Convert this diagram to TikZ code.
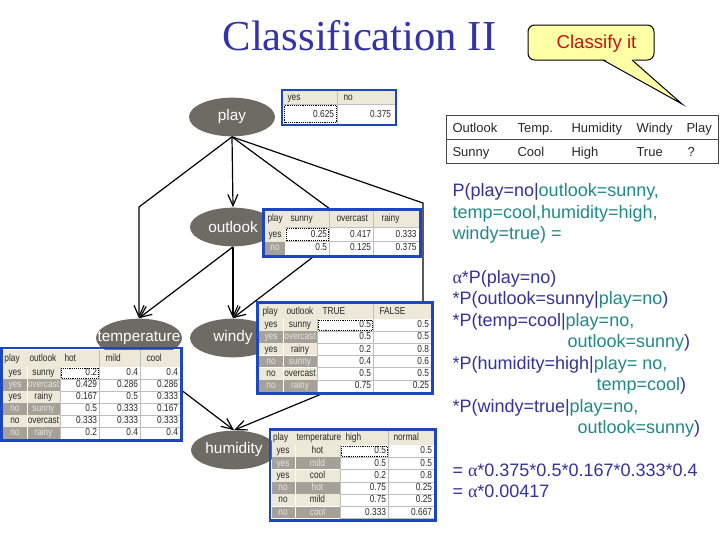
\documentclass[tikz,border=0pt]{standalone}
\usepackage{fontspec}
\setmainfont{Liberation Sans}
\newfontfamily\titlefont{Liberation Serif}
\newfontfamily\cptfont[FakeStretch=0.82]{Liberation Sans}
\usetikzlibrary{shapes.geometric,arrows.meta}

\definecolor{titleblue}{RGB}{51,51,170}
\definecolor{txtblue}{RGB}{51,51,153}
\definecolor{txtteal}{RGB}{34,136,136}
\definecolor{nodegray}{RGB}{110,106,100}
\definecolor{cptblue}{RGB}{30,70,190}
\definecolor{cptbeige}{RGB}{236,233,216}
\definecolor{cptgray}{RGB}{165,161,152}
\definecolor{cptpale}{RGB}{228,228,222}
\definecolor{cpttext}{RGB}{40,40,40}
\definecolor{gridgray}{RGB}{190,190,190}
\definecolor{calloutyellow}{RGB}{255,255,165}
\definecolor{calloutred}{RGB}{204,17,17}
\definecolor{tablegray}{RGB}{70,70,70}

\tikzset{every picture/.style={line width=0.75pt}}
\tikzset{
  bnnode/.style={ellipse, fill=nodegray, text=white, font=\fontsize{11.5}{13}\selectfont, minimum width=64.5pt, minimum height=29pt, inner sep=0pt},
  bnarrow/.style={draw=black, line width=0.9pt, -{Straight Barb[length=8.5pt,width=7.5pt]}},
  cptframe/.style={draw=cptblue, line width=2.2pt},
  gridline/.style={draw=gridgray, line width=0.5pt},
  sepline/.style={draw=white, line width=0.5pt},
  cpttxt/.style={inner sep=0pt, font=\cptfont\fontsize{7.6}{8.5}\selectfont, text=cpttext, text height=5.5pt, text depth=1.6pt},
  sel/.style={draw=black, densely dotted, line width=0.4pt},
  bigtxt/.style={anchor=base west, inner sep=0pt, text=txtblue, font=\fontsize{13.5}{16}\selectfont},
  datatxt/.style={anchor=base west, inner sep=0pt, text=cpttext, font=\fontsize{9.75}{12}\selectfont},
}

\begin{document}
\begin{tikzpicture}[x=0.75pt,y=0.75pt,yscale=-1,xscale=1]
	%set diagram size 720 x 540
	\fill[white] (0,0) rectangle (720,540);
	
	% Title
	\node[anchor=base, inner sep=0pt, text=titleblue, font=\titlefont\fontsize{32}{38}\selectfont] (title) at (359.5,50) {Classification II};
	
	%Shape: Callout
	\draw[fill=calloutyellow, rounded corners=5pt] (528,25) rectangle (654,60);
	\fill[calloutyellow] (603,58.5) -- (682,104) -- (632,58.5) -- cycle;
	\draw (603,60) -- (682,104) -- (632,60);
	% Text Node
	\node[anchor=base, inner sep=0pt, text=calloutred, font=\fontsize{14}{16}\selectfont] (classify) at (596.5,48.5) {Classify it};
	
	%Shape: Instance table
	\draw[draw=tablegray] (446,115) rectangle (718,163);
	\draw[draw=tablegray] (446,139.5) -- (718,139.5);
	\node[datatxt] (hout) at (452,132.5) {Outlook};
	\node[datatxt] (htmp) at (517,132.5) {Temp.};
	\node[datatxt] (hhum) at (571,132.5) {Humidity};
	\node[datatxt] (hwin) at (636,132.5) {Windy};
	\node[datatxt] (hpla) at (686,132.5) {Play};
	\node[datatxt] (vout) at (452,156) {Sunny};
	\node[datatxt] (vtmp) at (517,156) {Cool};
	\node[datatxt] (vhum) at (571,156) {High};
	\node[datatxt] (vwin) at (636,156) {True};
	\node[datatxt] (vpla) at (687,156) {?};
	
	% Text Nodes: computation
	\node[bigtxt] (q1) at (452,196.5) {P(play=no|\textcolor{txtteal}{outlook=sunny,}};
	\node[bigtxt] (q2) at (452,218) {\textcolor{txtteal}{temp=cool,humidity=high,}};
	\node[bigtxt] (q3) at (452,239.5) {\textcolor{txtteal}{windy=true) =}};
	\node[bigtxt] (f1) at (452,283) {{\titlefont α}*P(play=no)};
	\node[bigtxt] (f2) at (452,304.5) {*P(outlook=sunny|\textcolor{txtteal}{play=no})};
	\node[bigtxt] (f3) at (452,326) {*P(temp=cool|\textcolor{txtteal}{play=no,}};
	\node[bigtxt] (f3b) at (567,347.5) {\textcolor{txtteal}{outlook=sunny})};
	\node[bigtxt] (f4) at (452,369) {*P(humidity=high|\textcolor{txtteal}{play= no,}};
	\node[bigtxt] (f4b) at (596,390.5) {\textcolor{txtteal}{temp=cool})};
	\node[bigtxt] (f5) at (452,412) {*P(windy=true|\textcolor{txtteal}{play=no,}};
	\node[bigtxt] (f5b) at (577,433.5) {\textcolor{txtteal}{outlook=sunny})};
	\node[bigtxt] (r1) at (452,476) {= {\titlefont α}*0.375*0.5*0.167*0.333*0.4};
	\node[bigtxt] (r2) at (452,497.5) {= {\titlefont α}*0.00417};
	
	% Network nodes
	\node[bnnode] (play) at (232,117) {play};
	\node[bnnode] (outlook) at (233,227) {outlook};
	\node[bnnode] (temperature) at (139,338) {\makebox[0pt]{temperature}};
	\node[bnnode] (windy) at (233,338) {windy};
	\node[bnnode] (humidity) at (234,450) {humidity};
	
	% Network arcs
	\coordinate (tbend) at (139,207);
	\coordinate (wbend1) at (330,209);
	\coordinate (wbend2) at (330,244);
	\coordinate (hbend1) at (423,203);
	\coordinate (hbend2) at (423,352);
	\draw[bnarrow] (play.south) -- (outlook.north);
	\draw[bnarrow] (play.south) -- (tbend) -- (temperature.north);
	\draw[bnarrow] (play.south) -- (wbend1) -- (wbend2) -- (windy.north);
	\draw[bnarrow] (play.south) -- (hbend1) -- (hbend2) -- (humidity.north);
	\draw[bnarrow] (outlook.south) -- (temperature.north);
	\draw[bnarrow] (outlook.south) -- (windy.north);
	\draw[bnarrow] (temperature.south) -- (humidity.north);
	
	%Shape: CPT play
	\fill[white] (283,91) rectangle (395,124);
	\fill[cptbeige] (283,91) rectangle (395,104);
	\draw[gridline] (337,91) -- (337,124);
	\draw[gridline] (283,104) -- (395,104);
	\node[cpttxt,anchor=west] (pyes) at (287,97.5) {yes};
	\node[cpttxt,anchor=west] (pno) at (343,97.5) {no};
	\node[cpttxt,anchor=east] (pv1) at (334.5,115) {0.625};
	\node[cpttxt,anchor=east] (pv2) at (391.5,115) {0.375};
	\draw[sel] (284.5,105.5) rectangle (336,122.5);
	\draw[cptframe] (282,90) rectangle (396,125);
	
	%Shape: CPT outlook
	\fill[white] (265,211) rectangle (419,255);
	\fill[cptbeige] (265,211) rectangle (419,227);
	\fill[cptbeige] (265,227) rectangle (285,241.5);
	\fill[cptgray] (265,241.5) rectangle (285,255);
	\draw[gridline] (329,211) -- (329,255);
	\draw[gridline] (373,211) -- (373,255);
	\draw[gridline] (285,227) -- (419,227);
	\draw[gridline] (285,241.5) -- (419,241.5);
	\node[cpttxt,anchor=west] (oh1) at (267,218.5) {play};
	\node[cpttxt,anchor=west] (oh2) at (290,218.5) {sunny};
	\node[cpttxt,anchor=west] (oh3) at (336,218.5) {overcast};
	\node[cpttxt,anchor=west] (oh4) at (381,218.5) {rainy};
	\node[cpttxt] (oyes) at (275,234.5) {yes};
	\node[cpttxt,text=cptpale] (ono) at (275,248) {no};
	\node[cpttxt,anchor=east] (oy1) at (327.5,234.5) {0.25};
	\node[cpttxt,anchor=east] (oy2) at (371.5,234.5) {0.417};
	\node[cpttxt,anchor=east] (oy3) at (417,234.5) {0.333};
	\node[cpttxt,anchor=east] (on1) at (327.5,248) {0.5};
	\node[cpttxt,anchor=east] (on2) at (371.5,248) {0.125};
	\node[cpttxt,anchor=east] (on3) at (417,248) {0.375};
	\draw[sel] (286,228.5) rectangle (328,240.5);
	\draw[cptframe] (263.5,209.5) rectangle (420.5,256.5);
	
	%Shape: CPT windy
	\fill[white] (259,304) rectangle (431,392.2);
	\fill[cptbeige] (259,304) rectangle (431,319);
	\draw[gridline] (373,304) -- (373,392.2);
	\draw[gridline] (317,319) -- (317,392.2);
	\foreach \pl/\ol/\va/\vb [count=\rw] in {yes/sunny/0.5/0.5, yes/overcast/0.5/0.5, yes/rainy/0.2/0.8, no/sunny/0.4/0.6, no/overcast/0.5/0.5, no/rainy/0.75/0.25}{
		\ifodd\rw \def\lf{cptbeige}\def\lc{cpttext}\else \def\lf{cptgray}\def\lc{cptpale}\fi
		\fill[fill=\lf] (259,{306.8+\rw*12.2}) rectangle (317,{319+\rw*12.2});
		\draw[sepline] (259,{319+\rw*12.2}) -- (317,{319+\rw*12.2});
		\draw[gridline] (317,{319+\rw*12.2}) -- (431,{319+\rw*12.2});
		\node[cpttxt,text=\lc] (wp\rw) at (271,{312.9+\rw*12.2}) {\pl};
		\node[cpttxt,text=\lc] (wo\rw) at (300,{312.9+\rw*12.2}) {\ol};
		\node[cpttxt,anchor=east] (wa\rw) at (371.5,{312.9+\rw*12.2}) {\va};
		\node[cpttxt,anchor=east] (wb\rw) at (429.5,{312.9+\rw*12.2}) {\vb};
	}
	\draw[sepline] (283,319) -- (283,392.2);
	\node[cpttxt,anchor=west] (wh1) at (262,311.5) {play};
	\node[cpttxt,anchor=west] (wh2) at (286,311.5) {outlook};
	\node[cpttxt,anchor=west] (wh3) at (322,311.5) {TRUE};
	\node[cpttxt,anchor=west] (wh4) at (379,311.5) {FALSE};
	\draw[sel] (318,320) rectangle (372,330.3);
	\draw[cptframe] (257.5,302.5) rectangle (432.5,393.7);
	
	%Shape: CPT temperature
	\fill[white] (3,349.5) rectangle (180,439);
	\fill[cptbeige] (3,349.5) rectangle (180,367);
	\draw[gridline] (99,349.5) -- (99,439);
	\draw[gridline] (140,349.5) -- (140,439);
	\draw[gridline] (60,367) -- (60,439);
	\foreach \pl/\ol/\va/\vb/\vc [count=\rw] in {yes/sunny/0.2/0.4/0.4, yes/overcast/0.429/0.286/0.286, yes/rainy/0.167/0.5/0.333, no/sunny/0.5/0.333/0.167, no/overcast/0.333/0.333/0.333, no/rainy/0.2/0.4/0.4}{
		\ifodd\rw \def\lf{cptbeige}\def\lc{cpttext}\else \def\lf{cptgray}\def\lc{cptpale}\fi
		\fill[fill=\lf] (3,{355+\rw*12}) rectangle (60,{367+\rw*12});
		\draw[sepline] (3,{367+\rw*12}) -- (60,{367+\rw*12});
		\draw[gridline] (60,{367+\rw*12}) -- (180,{367+\rw*12});
		\node[cpttxt,text=\lc] (tp\rw) at (15,{361+\rw*12}) {\pl};
		\node[cpttxt,text=\lc] (to\rw) at (43.5,{361+\rw*12}) {\ol};
		\node[cpttxt,anchor=east] (ta\rw) at (97.5,{361+\rw*12}) {\va};
		\node[cpttxt,anchor=east] (tb\rw) at (138.5,{361+\rw*12}) {\vb};
		\node[cpttxt,anchor=east] (tc\rw) at (178.5,{361+\rw*12}) {\vc};
	}
	\draw[sepline] (27,367) -- (27,439);
	\node[cpttxt,anchor=west] (th1) at (4,358.5) {play};
	\node[cpttxt,anchor=west] (th2) at (29,358.5) {outlook};
	\node[cpttxt,anchor=west] (th3) at (64,358.5) {hot};
	\node[cpttxt,anchor=west] (th4) at (105,358.5) {mild};
	\node[cpttxt,anchor=west] (th5) at (146,358.5) {cool};
	\draw[sel] (61,368) rectangle (98,378);
	\draw[cptframe] (1.5,348) rectangle (181.5,440.5);
	
	%Shape: CPT humidity
	\fill[white] (271.5,431) rectangle (434,518.8);
	\fill[cptbeige] (271.5,431) rectangle (434,445);
	\draw[gridline] (388,431) -- (388,518.8);
	\draw[gridline] (340,445) -- (340,518.8);
	\foreach \pl/\tl/\va/\vb [count=\rw] in {yes/hot/0.5/0.5, yes/mild/0.5/0.5, yes/cool/0.2/0.8, no/hot/0.75/0.25, no/mild/0.75/0.25, no/cool/0.333/0.667}{
		\ifodd\rw \def\lf{cptbeige}\def\lc{cpttext}\else \def\lf{cptgray}\def\lc{cptpale}\fi
		\fill[fill=\lf] (271.5,{432.7+\rw*12.3}) rectangle (340,{445+\rw*12.3});
		\draw[sepline] (271.5,{445+\rw*12.3}) -- (340,{445+\rw*12.3});
		\draw[gridline] (340,{445+\rw*12.3}) -- (434,{445+\rw*12.3});
		\node[cpttxt,text=\lc] (hp\rw) at (283,{438.85+\rw*12.3}) {\pl};
		\node[cpttxt,text=\lc] (ht\rw) at (317.5,{438.85+\rw*12.3}) {\tl};
		\node[cpttxt,anchor=east] (ha\rw) at (386.5,{438.85+\rw*12.3}) {\va};
		\node[cpttxt,anchor=east] (hb\rw) at (432.5,{438.85+\rw*12.3}) {\vb};
	}
	\draw[sepline] (295,445) -- (295,518.8);
	\node[cpttxt,anchor=west] (hh1) at (272.5,438) {play};
	\node[cpttxt,anchor=west] (hh2) at (296,438) {temperature};
	\node[cpttxt,anchor=west] (hh3) at (345,438) {high};
	\node[cpttxt,anchor=west] (hh4) at (393,438) {normal};
	\draw[sel] (341,446) rectangle (387,456.3);
	\draw[cptframe] (270,429.5) rectangle (435.5,520.3);
	
\end{tikzpicture}
\end{document}
